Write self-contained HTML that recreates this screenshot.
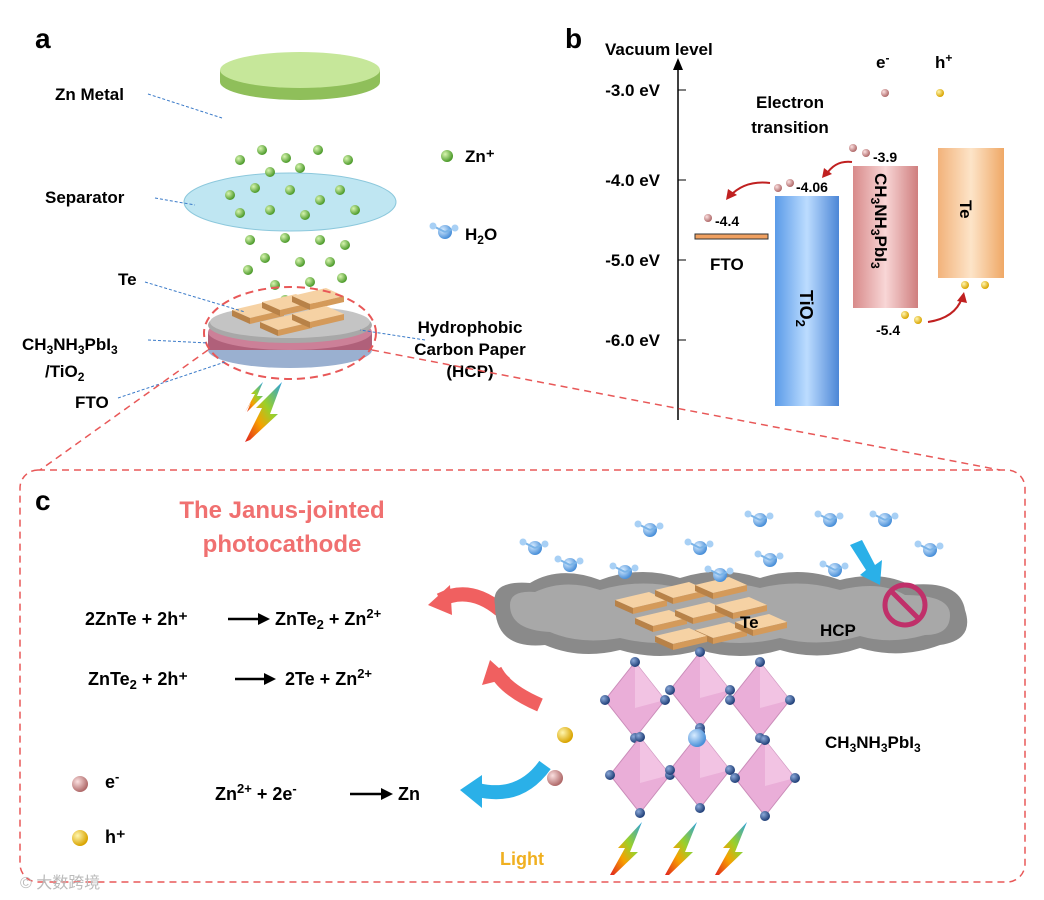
<!DOCTYPE html>
<html><head><meta charset="utf-8"><style>
html,body{margin:0;padding:0;background:#fff;}
svg{display:block;font-family:"Liberation Sans",Arial,sans-serif;}
.b{font-weight:bold;}
</style></head><body>
<svg width="1044" height="900" viewBox="0 0 1044 900" xmlns="http://www.w3.org/2000/svg">
<defs>
<radialGradient id="gd" cx="35%" cy="35%" r="65%"><stop offset="0" stop-color="#d8f5b0"/><stop offset="1" stop-color="#4c9a2a"/></radialGradient>
<radialGradient id="pd" cx="35%" cy="35%" r="65%"><stop offset="0" stop-color="#fbe0e0"/><stop offset="1" stop-color="#b06a6a"/></radialGradient>
<radialGradient id="yd" cx="35%" cy="35%" r="65%"><stop offset="0" stop-color="#fff6b0"/><stop offset="1" stop-color="#d9a400"/></radialGradient>
<radialGradient id="bd" cx="35%" cy="35%" r="65%"><stop offset="0" stop-color="#d8ecff"/><stop offset="1" stop-color="#4a90d9"/></radialGradient>
<radialGradient id="nd" cx="35%" cy="35%" r="65%"><stop offset="0" stop-color="#8aa8d8"/><stop offset="1" stop-color="#203f78"/></radialGradient>
<linearGradient id="tio" x1="0" x2="1"><stop offset="0" stop-color="#5a9be8"/><stop offset="0.5" stop-color="#bcdcff"/><stop offset="1" stop-color="#4c86d6"/></linearGradient>
<linearGradient id="pvk" x1="0" x2="1"><stop offset="0" stop-color="#d88a8a"/><stop offset="0.5" stop-color="#f8d6d6"/><stop offset="1" stop-color="#cf7e7e"/></linearGradient>
<linearGradient id="te" x1="0" x2="1"><stop offset="0" stop-color="#f2b27a"/><stop offset="0.5" stop-color="#fde4c8"/><stop offset="1" stop-color="#efa866"/></linearGradient>
<linearGradient id="bolt" x1="0" y1="1" x2="1" y2="0"><stop offset="0" stop-color="#e02020"/><stop offset="0.35" stop-color="#f7a000"/><stop offset="0.6" stop-color="#9ad02a"/><stop offset="1" stop-color="#2aa0e0"/></linearGradient>
<g id="bl"><polygon points="0,30 10,12 6,12 18,0 12,14 18,14 2,30 6,20" fill="url(#bolt)"/></g>
<g id="h2o"><circle cx="0" cy="0" r="7" fill="url(#bd)"/><line x1="0" y1="0" x2="-12" y2="-6" stroke="#7ab4e8" stroke-width="2"/><line x1="0" y1="0" x2="10" y2="-4" stroke="#7ab4e8" stroke-width="2"/><circle cx="-12" cy="-6" r="3.5" fill="#a8d0f5"/><circle cx="10" cy="-4" r="3.5" fill="#a8d0f5"/></g>
<g id="oct"><polygon points="0,-38 30,0 0,38 -30,0" fill="#e8a6d4" opacity="0.9" stroke="#c580b2"/><polygon points="0,-38 30,0 0,8" fill="#f4c8e6" opacity="0.8"/><circle cx="0" cy="-38" r="5" fill="url(#nd)"/><circle cx="30" cy="0" r="5" fill="url(#nd)"/><circle cx="0" cy="38" r="5" fill="url(#nd)"/><circle cx="-30" cy="0" r="5" fill="url(#nd)"/></g>
<g id="tile"><polygon points="0,0 34,-8 52,0 18,8" fill="#f6d2a4"/><polygon points="0,0 18,8 18,14 0,6" fill="#b88248"/><polygon points="18,8 52,0 52,6 18,14" fill="#d49a5a"/></g>
</defs>

<!-- PANEL A -->
<text x="35" y="48" font-size="28" class="b">a</text>
<!-- Zn metal -->
<ellipse cx="300" cy="82" rx="80" ry="18" fill="#8fbf5a"/>
<rect x="220" y="70" width="160" height="12" fill="#8fbf5a"/>
<ellipse cx="300" cy="70" rx="80" ry="18" fill="#c6e79a"/>
<text x="55" y="100" font-size="17" class="b">Zn Metal</text>
<line x1="148" y1="94" x2="222" y2="118" stroke="#3a7ac8" stroke-dasharray="3,2"/>
<!-- separator -->
<ellipse cx="290" cy="202" rx="106" ry="29" fill="#bfe6f2" stroke="#8cc8dc"/>
<text x="45" y="203" font-size="17" class="b">Separator</text>
<line x1="155" y1="198" x2="195" y2="205" stroke="#3a7ac8" stroke-dasharray="3,2"/>
<!-- green dots -->
<g fill="url(#gd)">
<circle cx="240" cy="160" r="5"/><circle cx="262" cy="150" r="5"/><circle cx="286" cy="158" r="5"/><circle cx="318" cy="150" r="5"/><circle cx="348" cy="160" r="5"/><circle cx="300" cy="168" r="5"/><circle cx="270" cy="172" r="5"/>
<circle cx="230" cy="195" r="5"/><circle cx="255" cy="188" r="5"/><circle cx="290" cy="190" r="5"/><circle cx="320" cy="200" r="5"/><circle cx="340" cy="190" r="5"/><circle cx="270" cy="210" r="5"/><circle cx="305" cy="215" r="5"/><circle cx="355" cy="210" r="5"/><circle cx="240" cy="213" r="5"/>
<circle cx="250" cy="240" r="5"/><circle cx="285" cy="238" r="5"/><circle cx="320" cy="240" r="5"/><circle cx="345" cy="245" r="5"/><circle cx="265" cy="258" r="5"/><circle cx="300" cy="262" r="5"/><circle cx="330" cy="262" r="5"/><circle cx="248" cy="270" r="5"/><circle cx="342" cy="278" r="5"/><circle cx="275" cy="285" r="5"/><circle cx="310" cy="282" r="5"/><circle cx="285" cy="300" r="5"/>
</g>
<circle cx="447" cy="156" r="6" fill="url(#gd)"/>
<text x="465" y="162" font-size="17" class="b">Zn⁺</text>
<use href="#h2o" x="445" y="232"/>
<text x="465" y="240" font-size="17" class="b">H<tspan font-size="12" dy="4">2</tspan><tspan dy="-4">O</tspan></text>
<!-- stack -->
<ellipse cx="290" cy="350" rx="82" ry="18" fill="#9ab0d0"/>
<rect x="208" y="332" width="164" height="18" fill="#b0607a"/>
<ellipse cx="290" cy="332" rx="82" ry="18" fill="#cc8098"/>
<ellipse cx="290" cy="325" rx="82" ry="18" fill="#a8a8a8"/>
<ellipse cx="290" cy="322" rx="80" ry="16" fill="#c4c4c4"/>
<use href="#tile" x="232" y="310"/><use href="#tile" x="262" y="302"/><use href="#tile" x="292" y="296"/><use href="#tile" x="260" y="322"/><use href="#tile" x="292" y="314"/>
<ellipse cx="290" cy="333" rx="86" ry="46" fill="none" stroke="#e85858" stroke-width="2" stroke-dasharray="8,5"/>
<text x="118" y="285" font-size="17" class="b">Te</text>
<line x1="145" y1="282" x2="245" y2="312" stroke="#3a7ac8" stroke-dasharray="3,2"/>
<text x="22" y="350" font-size="17" class="b">CH<tspan font-size="12" dy="4">3</tspan><tspan dy="-4">NH</tspan><tspan font-size="12" dy="4">3</tspan><tspan dy="-4">PbI</tspan><tspan font-size="12" dy="4">3</tspan></text>
<text x="45" y="377" font-size="17" class="b">/TiO<tspan font-size="12" dy="4">2</tspan></text>
<line x1="148" y1="340" x2="208" y2="343" stroke="#3a7ac8" stroke-dasharray="3,2"/>
<text x="75" y="408" font-size="17" class="b">FTO</text>
<line x1="118" y1="398" x2="225" y2="362" stroke="#3a7ac8" stroke-dasharray="3,2"/>
<text x="470" y="333" font-size="17" class="b" text-anchor="middle">Hydrophobic</text>
<text x="470" y="355" font-size="17" class="b" text-anchor="middle">Carbon Paper</text>
<text x="470" y="377" font-size="17" class="b" text-anchor="middle">(HCP)</text>
<line x1="425" y1="340" x2="360" y2="330" stroke="#3a7ac8" stroke-dasharray="3,2"/>
<use href="#bl" x="245" y="382" transform="rotate(0)"/>
<polygon points="245,442 262,408 256,408 282,382 270,414 278,414 250,440" fill="url(#bolt)"/>

<!-- PANEL B -->
<text x="565" y="48" font-size="28" class="b">b</text>
<text x="605" y="55" font-size="17" class="b">Vacuum level</text>
<line x1="678" y1="65" x2="678" y2="420" stroke="#000" stroke-width="1.5"/>
<polygon points="673,70 678,58 683,70" fill="#000"/>
<g font-size="17" class="b" text-anchor="end">
<text x="660" y="96">-3.0 eV</text><text x="660" y="186">-4.0 eV</text><text x="660" y="266">-5.0 eV</text><text x="660" y="346">-6.0 eV</text></g>
<g stroke="#000"><line x1="678" y1="90" x2="686" y2="90"/><line x1="678" y1="180" x2="686" y2="180"/><line x1="678" y1="260" x2="686" y2="260"/><line x1="678" y1="340" x2="686" y2="340"/></g>
<rect x="695" y="234" width="73" height="5" fill="#f0a060" stroke="#333"/>
<text x="710" y="270" font-size="17" class="b">FTO</text>
<rect x="775" y="196" width="64" height="210" fill="url(#tio)"/>
<text x="800" y="290" font-size="18" class="b" transform="rotate(90 800 290)">TiO<tspan font-size="13" dy="4">2</tspan></text>
<rect x="853" y="166" width="65" height="142" fill="url(#pvk)"/>
<text x="875" y="173" font-size="17" class="b" transform="rotate(90 875 173)">CH<tspan font-size="12" dy="4">3</tspan><tspan dy="-4">NH</tspan><tspan font-size="12" dy="4">3</tspan><tspan dy="-4">PbI</tspan><tspan font-size="12" dy="4">3</tspan></text>
<rect x="938" y="148" width="66" height="130" fill="url(#te)"/>
<text x="960" y="200" font-size="17" class="b" transform="rotate(90 960 200)">Te</text>
<text x="876" y="68" font-size="17" class="b">e<tspan font-size="12" dy="-6">-</tspan></text>
<text x="935" y="68" font-size="17" class="b">h<tspan font-size="12" dy="-6">+</tspan></text>
<circle cx="885" cy="93" r="4" fill="url(#pd)"/><circle cx="940" cy="93" r="4" fill="url(#yd)"/>
<text x="790" y="108" font-size="17" class="b" text-anchor="middle">Electron</text>
<text x="790" y="133" font-size="17" class="b" text-anchor="middle">transition</text>
<circle cx="853" cy="148" r="4" fill="url(#pd)"/><circle cx="866" cy="153" r="4" fill="url(#pd)"/>
<text x="873" y="162" font-size="14" class="b">-3.9</text>
<circle cx="778" cy="188" r="4" fill="url(#pd)"/><circle cx="790" cy="183" r="4" fill="url(#pd)"/>
<text x="796" y="192" font-size="14" class="b">-4.06</text>
<circle cx="708" cy="218" r="4" fill="url(#pd)"/>
<text x="715" y="226" font-size="14" class="b">-4.4</text>
<path d="M852,162 Q835,160 826,175" fill="none" stroke="#c02020" stroke-width="2"/><polygon points="822,178 824,168 832,174" fill="#c02020"/>
<path d="M770,183 Q745,180 730,196" fill="none" stroke="#c02020" stroke-width="2"/><polygon points="726,200 728,189 737,195" fill="#c02020"/>
<circle cx="905" cy="315" r="4" fill="url(#yd)"/><circle cx="918" cy="320" r="4" fill="url(#yd)"/>
<text x="876" y="335" font-size="14" class="b">-5.4</text>
<circle cx="965" cy="285" r="4" fill="url(#yd)"/><circle cx="985" cy="285" r="4" fill="url(#yd)"/>
<path d="M928,322 Q955,318 962,298" fill="none" stroke="#c02020" stroke-width="2"/><polygon points="964,292 967,303 957,301" fill="#c02020"/>

<!-- PANEL C -->
<rect x="20" y="470" width="1005" height="412" rx="18" fill="none" stroke="#e85858" stroke-width="1.5" stroke-dasharray="7,5"/>
<line x1="208" y1="350" x2="40" y2="470" stroke="#e85858" stroke-width="1.5" stroke-dasharray="7,5"/>
<line x1="372" y1="350" x2="1000" y2="470" stroke="#e85858" stroke-width="1.5" stroke-dasharray="7,5"/>
<text x="35" y="510" font-size="28" class="b">c</text>
<text x="282" y="518" font-size="24" class="b" fill="#f07070" text-anchor="middle">The Janus-jointed</text>
<text x="282" y="552" font-size="24" class="b" fill="#f07070" text-anchor="middle">photocathode</text>
<g font-size="18" class="b">
<text x="85" y="625">2ZnTe + 2h⁺</text>
<text x="275" y="625">ZnTe<tspan font-size="13" dy="4">2</tspan><tspan dy="-4"> + Zn</tspan><tspan font-size="13" dy="-7">2+</tspan></text>
<text x="88" y="685">ZnTe<tspan font-size="13" dy="4">2</tspan><tspan dy="-4"> + 2h⁺</tspan></text>
<text x="285" y="685">2Te  + Zn<tspan font-size="13" dy="-7">2+</tspan></text>
<text x="215" y="800">Zn<tspan font-size="13" dy="-7">2+</tspan><tspan dy="7"> + 2e</tspan><tspan font-size="13" dy="-7">-</tspan></text>
<text x="398" y="800">Zn</text>
<text x="105" y="788">e<tspan font-size="13" dy="-7">-</tspan></text>
<text x="105" y="843">h⁺</text>
</g>
<g stroke="#000" stroke-width="2.5"><line x1="228" y1="619" x2="262" y2="619"/><line x1="235" y1="679" x2="268" y2="679"/><line x1="350" y1="794" x2="385" y2="794"/></g>
<g fill="#000"><polygon points="270,619 258,613 258,625"/><polygon points="276,679 264,673 264,685"/><polygon points="393,794 381,788 381,800"/></g>
<circle cx="80" cy="784" r="8" fill="url(#pd)"/><circle cx="80" cy="838" r="8" fill="url(#yd)"/>
<!-- red arrows -->
<path d="M500,610 Q470,585 440,600" fill="none" stroke="#f06060" stroke-width="14"/><polygon points="428,605 450,585 452,615" fill="#f06060"/>
<path d="M540,705 Q505,690 495,670" fill="none" stroke="#f06060" stroke-width="14"/><polygon points="490,660 482,685 510,678" fill="#f06060"/>
<path d="M545,765 Q520,800 478,790" fill="none" stroke="#2ab0e8" stroke-width="14"/><polygon points="460,790 482,775 482,808" fill="#2ab0e8"/>
<circle cx="565" cy="735" r="8" fill="url(#yd)"/><circle cx="555" cy="778" r="8" fill="url(#pd)"/>
<text x="500" y="865" font-size="18" class="b" fill="#f0b020">Light</text>
<!-- HCP cloud -->
<path d="M495,605 Q490,580 530,583 Q560,565 600,580 Q640,565 680,578 Q720,565 760,578 Q800,565 840,580 Q880,570 910,585 Q960,580 965,610 Q975,640 940,645 Q900,660 860,648 Q820,662 780,650 Q740,662 700,650 Q660,662 620,650 Q580,660 545,645 Q495,650 495,605 Z" fill="#8a8a8a"/>
<path d="M510,605 Q510,590 535,592 Q565,578 600,590 Q640,578 680,588 Q720,578 760,588 Q800,578 840,590 Q880,580 905,595 Q950,595 950,615 Q950,635 925,635 Q890,645 860,636 Q820,648 780,638 Q740,648 700,638 Q660,648 620,638 Q580,645 550,632 Q510,630 510,605 Z" fill="#a8a8a8"/>
<use href="#tile" x="615" y="600"/><use href="#tile" x="655" y="590"/><use href="#tile" x="695" y="585"/><use href="#tile" x="635" y="618"/><use href="#tile" x="675" y="610"/><use href="#tile" x="715" y="605"/><use href="#tile" x="695" y="630"/><use href="#tile" x="735" y="622"/><use href="#tile" x="655" y="636"/>
<text x="740" y="628" font-size="17" class="b">Te</text>
<text x="820" y="636" font-size="17" class="b">HCP</text>
<circle cx="905" cy="605" r="20" fill="none" stroke="#c0306a" stroke-width="5"/><line x1="891" y1="591" x2="919" y2="619" stroke="#c0306a" stroke-width="5"/>
<polygon points="850,545 862,540 875,565 882,560 880,585 860,575 866,570" fill="#2ab0e8"/>
<!-- water molecules -->
<use href="#h2o" x="535" y="548"/><use href="#h2o" x="570" y="565"/><use href="#h2o" x="650" y="530"/><use href="#h2o" x="625" y="572"/><use href="#h2o" x="700" y="548"/><use href="#h2o" x="760" y="520"/><use href="#h2o" x="770" y="560"/><use href="#h2o" x="830" y="520"/><use href="#h2o" x="885" y="520"/><use href="#h2o" x="930" y="550"/><use href="#h2o" x="835" y="570"/><use href="#h2o" x="720" y="575"/>
<!-- perovskite -->
<use href="#oct" x="635" y="700"/><use href="#oct" x="700" y="690"/><use href="#oct" x="760" y="700"/>
<use href="#oct" x="640" y="775"/><use href="#oct" x="700" y="770"/><use href="#oct" x="765" y="778"/>
<circle cx="697" cy="738" r="9" fill="url(#bd)"/>
<text x="825" y="748" font-size="17" class="b">CH<tspan font-size="12" dy="4">3</tspan><tspan dy="-4">NH</tspan><tspan font-size="12" dy="4">3</tspan><tspan dy="-4">PbI</tspan><tspan font-size="12" dy="4">3</tspan></text>
<polygon points="610,875 625,848 618,848 642,822 630,852 638,852 614,875" fill="url(#bolt)"/>
<polygon points="665,875 680,848 673,848 697,822 685,852 693,852 669,875" fill="url(#bolt)"/>
<polygon points="715,875 730,848 723,848 747,822 735,852 743,852 719,875" fill="url(#bolt)"/>
<text x="20" y="888" font-size="16" fill="#bbb">© 大数跨境</text>
</svg>
</body></html>
